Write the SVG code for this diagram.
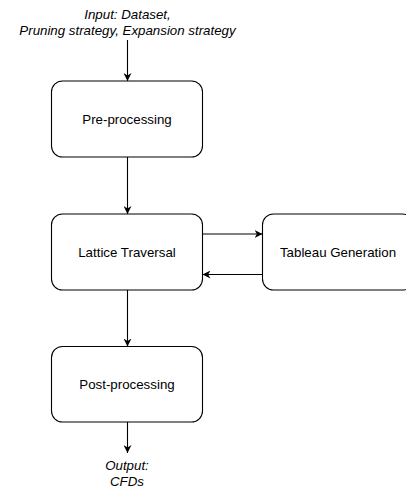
<svg xmlns="http://www.w3.org/2000/svg" width="406" height="493" viewBox="0 0 406 493">
<defs>
<style>
.box{fill:#ffffff;stroke:#000000;stroke-width:1.1}
.lbl{font-family:"Liberation Sans",Arial,sans-serif;font-size:13.3px;fill:#000000;text-anchor:middle}
.it{font-style:italic}
.edge{fill:none;stroke:#000000;stroke-width:1.1}
</style>
<marker id="arr" viewBox="0 0 10 10" refX="10" refY="5" markerUnits="userSpaceOnUse" markerWidth="8" markerHeight="8" orient="auto">
<path d="M0,0 L10,5 L0,10 L3,5 Z" fill="#000000"/>
</marker>
</defs>
<rect width="406" height="493" fill="#ffffff"/>
<g id="input">
<text class="lbl it" x="127.5" y="19">Input: Dataset,</text>
<text class="lbl it" x="127.5" y="34.5">Pruning strategy, Expansion strategy</text>
</g>
<g id="preprocessing">
<rect class="box" x="51.5" y="81" width="151" height="76" rx="11" ry="11"/>
<text class="lbl" x="127" y="123.5">Pre-processing</text>
</g>
<g id="lattice">
<rect class="box" x="51.5" y="214" width="151" height="76" rx="11" ry="11"/>
<text class="lbl" x="127" y="256.5">Lattice Traversal</text>
</g>
<g id="tableau">
<rect class="box" x="262.5" y="214" width="151" height="76" rx="11" ry="11"/>
<text class="lbl" x="338" y="256.5">Tableau Generation</text>
</g>
<g id="postprocessing">
<rect class="box" x="51.5" y="346.5" width="151" height="75.5" rx="11" ry="11"/>
<text class="lbl" x="127" y="389">Post-processing</text>
</g>
<g id="output">
<text class="lbl it" x="127" y="470">Output:</text>
<text class="lbl it" x="127" y="485.5">CFDs</text>
</g>
<g id="connectors">
<line class="edge" x1="127.5" y1="40" x2="127.5" y2="81" marker-end="url(#arr)"/>
<line class="edge" x1="127.5" y1="157" x2="127.5" y2="214" marker-end="url(#arr)"/>
<line class="edge" x1="127.5" y1="290" x2="127.5" y2="346.5" marker-end="url(#arr)"/>
<line class="edge" x1="127.5" y1="422" x2="127.5" y2="453" marker-end="url(#arr)"/>
<line class="edge" x1="202.5" y1="234" x2="262.5" y2="234" marker-end="url(#arr)"/>
<line class="edge" x1="262.5" y1="274.5" x2="202.5" y2="274.5" marker-end="url(#arr)"/>
</g>
</svg>
